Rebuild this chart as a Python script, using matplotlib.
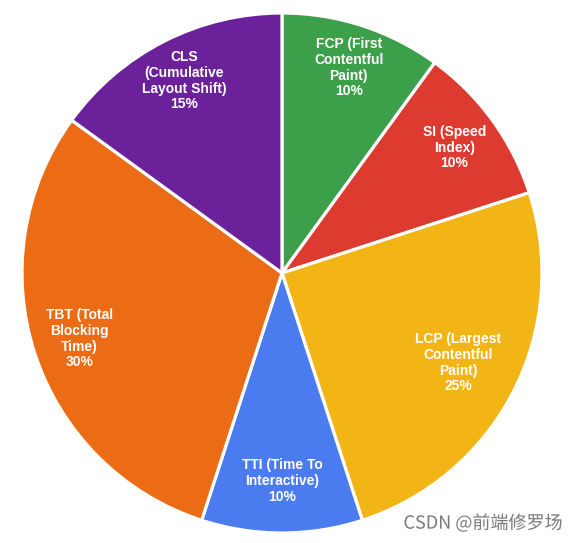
import matplotlib
matplotlib.use("Agg")
import matplotlib.pyplot as plt
import matplotlib.patheffects as pe

# metrics, clockwise from the top
labels = [
    "FCP (First\nContentful\nPaint)\n10%",
    "SI (Speed\nIndex)\n10%",
    "LCP (Largest\nContentful\nPaint)\n25%",
    "TTI (Time To\nInteractive)\n10%",
    "TBT (Total\nBlocking\nTime)\n30%",
    "CLS\n(Cumulative\nLayout Shift)\n15%",
]
weights = [10, 10, 25, 10, 30, 15]
colors = ["#3c9f4a", "#dd3b30", "#f3b515", "#4a7cf0", "#ec6c15", "#6a219a"]
label_dist = [0.83, 0.82, 0.76, 0.80, 0.82, 0.83]

fig = plt.figure(figsize=(5.75, 5.43), dpi=100)
ax = fig.add_axes([22 / 575, 10 / 543, 520 / 575, 520 / 543])

wedges, texts = ax.pie(
    weights, labels=labels, colors=colors, startangle=90, counterclock=False,
    radius=1, labeldistance=1.0,
    wedgeprops=dict(edgecolor="white", linewidth=2.3),
    textprops=dict(color="white", fontsize=10, fontweight="bold",
                   family="Liberation Sans", ha="center", va="center",
                   linespacing=1.15),
)
for t, d in zip(texts, label_dist):
    x, y = t.get_position()
    t.set_position((x * d, y * d))
    t.set_horizontalalignment("center")
    t.set_multialignment("center")
ax.set_xlim(-1, 1)
ax.set_ylim(-1, 1)
ax.axis("off")

fig.text(0.978, 0.036, "CSDN @前端修罗场", ha="right", va="center",
         fontsize=13, color="#7a7a7a", family=["Noto Sans CJK SC", "DejaVu Sans"],
         path_effects=[pe.withStroke(linewidth=1.5, foreground="white")])

fig.savefig("out.png", dpi=100)
